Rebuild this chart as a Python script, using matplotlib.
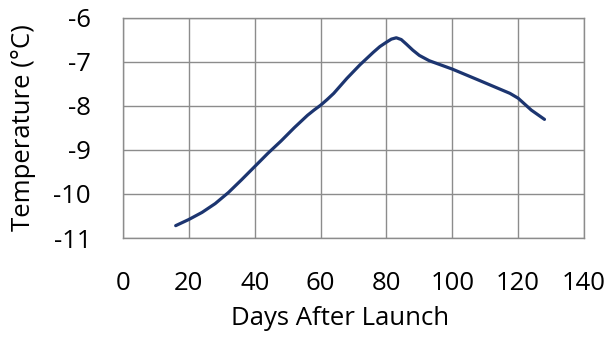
import matplotlib
matplotlib.use("Agg")
import matplotlib.pyplot as plt

# Temperature record after launch
days = [16, 20, 24, 28, 32, 36, 40, 44, 48, 52, 56, 58, 60, 62, 64, 68, 72,
        74, 76, 78, 80, 81.5, 83, 84.5, 86, 88, 90, 93, 100, 108, 117.5,
        120, 124, 128]
temps = [-10.72, -10.58, -10.42, -10.22, -9.97, -9.68, -9.38, -9.08, -8.80,
         -8.50, -8.22, -8.10, -7.99, -7.86, -7.72, -7.38, -7.07,
         -6.93, -6.79, -6.66, -6.56, -6.49, -6.46, -6.50, -6.60, -6.74,
         -6.86, -6.98, -7.17, -7.42, -7.72, -7.83, -8.10, -8.31]

x_ticks = [0, 20, 40, 60, 80, 100, 120, 140]
y_ticks = [-11, -10, -9, -8, -7, -6]

plt.rcParams['font.family'] = ['Open Sans', 'DejaVu Sans']

fig = plt.figure(figsize=(6.10, 3.37), dpi=100)
ax = fig.add_axes([123 / 610, 1 - 238 / 337, (584 - 123) / 610, (238 - 17.5) / 337])

ax.plot(days, temps, color='#1C3570', lw=2.3, solid_capstyle='round',
        solid_joinstyle='round')

ax.set_xlim(0, 140)
ax.set_ylim(-11, -6)
ax.set_xticks(x_ticks)
ax.set_yticks(y_ticks)
ax.set_xticklabels([str(v) for v in x_ticks])
ax.set_yticklabels([str(v) for v in y_ticks])

ax.grid(True, color='#8c8c8c', lw=1.0)
ax.set_axisbelow(True)
for s in ax.spines.values():
    s.set_color('#8c8c8c')
    s.set_linewidth(1.0)

ax.tick_params(axis='both', length=0, labelsize=18.5, colors='black')
ax.tick_params(axis='x', pad=24)
ax.tick_params(axis='y', pad=23)

ax.set_xlabel('Days After Launch', fontsize=18.5)
ax.set_ylabel('Temperature (°C)', fontsize=18.5)
ax.xaxis.set_label_coords(0.471, -0.31)
ax.yaxis.set_label_coords(-0.189, 0.5)

fig.savefig('out.png', dpi=100, facecolor='white')
